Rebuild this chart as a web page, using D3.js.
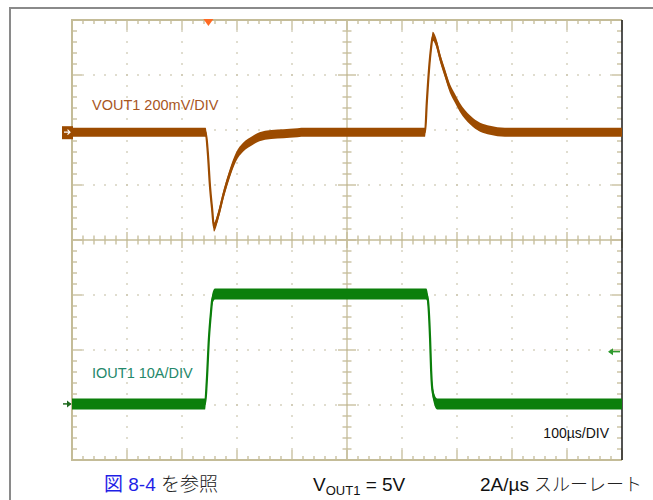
<!DOCTYPE html>
<html>
<head>
<meta charset="utf-8">
<script src="https://cdn.jsdelivr.net/npm/d3@7"></script>
<style>
  body { margin: 0; background: #fff; }
  svg { display: block; font-family: "Liberation Sans", Arial, sans-serif; }
</style>
</head>
<body>
<svg id="scope" width="653" height="500"></svg>
<script>
// scope settings: 100us/div over 10 divisions, 8 vertical divisions
var timeSpanUs = 1000;
var usPerDiv = 100;
var vertDivs = 4; // each side of centre

// VOUT1 channel, 200mV/div, deviation from its 5V level
var voutMvPerDiv = 200;
var voutOffsetDiv = 1.96;
var voutTimeUs = [0, 243, 247, 251, 255, 258, 265, 276, 287, 298, 311, 329, 351, 396, 424,
  642, 645, 649, 653, 656, 662, 669, 678, 687, 696, 705, 724, 742, 760, 787, 1000];
var voutMv = [0, 0, -76, -200, -284, -345, -309, -222, -149, -91, -55, -29, -11, -4, 0,
  0, 105, 225, 309, 349, 327, 273, 215, 160, 124, 91, 44, 18, 7, 0, 0];

// IOUT1 channel, 10A/div
var ioutAPerDiv = 10;
var ioutOffsetDiv = -2.98;
var ioutTimeUs = [0, 242, 245, 249, 253, 255, 260, 644, 647, 651, 653, 656, 664, 1000];
var ioutA = [0, 0, 4, 12, 17, 19, 20, 20, 19, 12, 6, 2, 0, 0];

var triggerTimeUs = 248;
var triggerLevelA = 9.5;

var voutLabel = "VOUT1 200mV/DIV";
var ioutLabel = "IOUT1 10A/DIV";
var timebaseLabel = "100\u00b5s/DIV";

var plot = { left: 72, top: 20, right: 622, bottom: 460 };
var frameColor = "#c4bc98";
var dotColor = "#c9c3aa";
var voutColor = "#9c4b00";
var ioutColor = "#0b7f0b";

var svg = d3.select("#scope");

// outer figure frame
svg.append("path")
  .attr("d", "M10,500 V8 H653")
  .attr("fill", "none")
  .attr("stroke", "#8a8a8a")
  .attr("stroke-width", 2);

var x = d3.scaleLinear().domain([0, timeSpanUs]).range([plot.left, plot.right]);
var yDiv = d3.scaleLinear().domain([-vertDivs, vertDivs]).range([plot.bottom, plot.top]);
var yV = d3.scaleLinear()
  .domain([(-vertDivs - voutOffsetDiv) * voutMvPerDiv, (vertDivs - voutOffsetDiv) * voutMvPerDiv])
  .range([plot.bottom, plot.top]);
var yI = d3.scaleLinear()
  .domain([(-vertDivs - ioutOffsetDiv) * ioutAPerDiv, (vertDivs - ioutOffsetDiv) * ioutAPerDiv])
  .range([plot.bottom, plot.top]);

var minorT = d3.range(0, timeSpanUs + 0.01, usPerDiv / 5);
var minorV = d3.range(-vertDivs, vertDivs + 0.01, 0.2);
var isMajorT = (t) => Math.abs(t / usPerDiv - Math.round(t / usPerDiv)) < 1e-6;
var isMajorV = (v) => Math.abs(v - Math.round(v)) < 1e-6;

// dotted graticule
var grid = svg.append("g");
d3.range(1, 10).filter((k) => k != 5).forEach(function (k) {
  grid.selectAll(null)
    .data(minorV.slice(1, -1))
    .enter()
    .append("rect")
    .attr("x", x(k * usPerDiv) - 0.75)
    .attr("y", (v) => yDiv(v) - 0.75)
    .attr("width", 1.5)
    .attr("height", 1.5)
    .attr("fill", dotColor);
});
d3.range(-3, 4).filter((j) => j != 0).forEach(function (j) {
  grid.selectAll(null)
    .data(minorT.slice(1, -1))
    .enter()
    .append("rect")
    .attr("x", (t) => x(t) - 0.75)
    .attr("y", yDiv(j) - 0.75)
    .attr("width", 1.5)
    .attr("height", 1.5)
    .attr("fill", dotColor);
});

// centre axes
var axes = svg.append("g").attr("stroke", frameColor).attr("stroke-width", 1.3);
axes.append("line")
  .attr("x1", plot.left).attr("x2", plot.right)
  .attr("y1", yDiv(0)).attr("y2", yDiv(0));
axes.append("line")
  .attr("x1", x(timeSpanUs / 2)).attr("x2", x(timeSpanUs / 2))
  .attr("y1", plot.top).attr("y2", plot.bottom);
axes.selectAll(null)
  .data(minorT)
  .enter()
  .append("line")
  .attr("x1", (t) => x(t)).attr("x2", (t) => x(t))
  .attr("y1", (t) => yDiv(0) - (isMajorT(t) ? 8 : 4.5))
  .attr("y2", (t) => yDiv(0) + (isMajorT(t) ? 8 : 4.5));
axes.selectAll(null)
  .data(minorV)
  .enter()
  .append("line")
  .attr("y1", (v) => yDiv(v)).attr("y2", (v) => yDiv(v))
  .attr("x1", (v) => x(timeSpanUs / 2) - (isMajorV(v) ? 9 : 4.5))
  .attr("x2", (v) => x(timeSpanUs / 2) + (isMajorV(v) ? 9 : 4.5));

// edge ticks
var edges = svg.append("g").attr("stroke", frameColor).attr("stroke-width", 1.3);
edges.selectAll(null)
  .data(minorT)
  .enter()
  .append("line")
  .attr("x1", (t) => x(t)).attr("x2", (t) => x(t))
  .attr("y1", plot.top)
  .attr("y2", (t) => plot.top + (isMajorT(t) ? 10 : 4));
edges.selectAll(null)
  .data(minorT)
  .enter()
  .append("line")
  .attr("x1", (t) => x(t)).attr("x2", (t) => x(t))
  .attr("y1", plot.bottom)
  .attr("y2", (t) => plot.bottom - (isMajorT(t) ? 10 : 4));
edges.selectAll(null)
  .data(minorV)
  .enter()
  .append("line")
  .attr("y1", (v) => yDiv(v)).attr("y2", (v) => yDiv(v))
  .attr("x1", plot.left)
  .attr("x2", (v) => plot.left + (isMajorV(v) ? 10 : 5));
edges.selectAll(null)
  .data(minorV)
  .enter()
  .append("line")
  .attr("y1", (v) => yDiv(v)).attr("y2", (v) => yDiv(v))
  .attr("x1", plot.right)
  .attr("x2", (v) => plot.right - (isMajorV(v) ? 10 : 5));

// plot border: khaki on three sides, dark on the right
svg.append("path")
  .attr("d", `M${plot.right},${plot.top} H${plot.left} V${plot.bottom} H${plot.right}`)
  .attr("fill", "none")
  .attr("stroke", frameColor)
  .attr("stroke-width", 2);
svg.append("line")
  .attr("x1", plot.right).attr("x2", plot.right)
  .attr("y1", plot.top).attr("y2", plot.bottom)
  .attr("stroke", "#1a1a1a")
  .attr("stroke-width", 1.5);

// traces drawn as a noisy band: vertical thickness plus a thin core line
function drawTrace(times, values, yScale, color, halfBand) {
  var pts = times.map((t, i) => ({ t: t, v: values[i] }));
  var band = d3.area()
    .curve(d3.curveMonotoneX)
    .x((d) => x(d.t))
    .y0((d) => yScale(d.v) + halfBand)
    .y1((d) => yScale(d.v) - halfBand);
  var line = d3.line()
    .curve(d3.curveMonotoneX)
    .x((d) => x(d.t))
    .y((d) => yScale(d.v));
  svg.append("path").datum(pts).attr("d", band).attr("fill", color);
  svg.append("path").datum(pts).attr("d", line)
    .attr("fill", "none").attr("stroke", color).attr("stroke-width", 2.2);
}
drawTrace(voutTimeUs, voutMv, yV, voutColor, 4.5);
drawTrace(ioutTimeUs, ioutA, yI, ioutColor, 5.5);

// trigger position marker
var tx = x(triggerTimeUs);
svg.append("path")
  .attr("d", `M${tx - 5},${plot.top - 1} L${tx + 5},${plot.top - 1} L${tx},${plot.top + 6} Z`)
  .attr("fill", "#ff6a22");

// channel ground markers
var gv = yV(0);
svg.append("rect")
  .attr("x", 62).attr("y", gv - 6)
  .attr("width", 11).attr("height", 13)
  .attr("fill", voutColor);
svg.append("path")
  .attr("d", `M64,${gv} H70 M67.5,${gv - 2.5} L70,${gv} L67.5,${gv + 2.5}`)
  .attr("fill", "none").attr("stroke", "#fff").attr("stroke-width", 1.2);
var gi = yI(0);
svg.append("path")
  .attr("d", `M63,${gi} H71`)
  .attr("stroke", "#1f6a1f").attr("stroke-width", 1.5);
svg.append("path")
  .attr("d", `M67,${gi - 3.5} L71.5,${gi} L67,${gi + 3.5} Z`)
  .attr("fill", "#1f6a1f");

// trigger level marker
var tl = yI(triggerLevelA);
svg.append("path")
  .attr("d", `M609,${tl} H620`)
  .attr("stroke", "#2f9a2f").attr("stroke-width", 1.5);
svg.append("path")
  .attr("d", `M608,${tl} L613,${tl - 3.5} L613,${tl + 3.5} Z`)
  .attr("fill", "#2f9a2f");

// channel labels
svg.append("text")
  .attr("x", 92).attr("y", 110)
  .attr("font-size", 14.5)
  .attr("fill", "#a8561e")
  .text(voutLabel);
svg.append("text")
  .attr("x", 92).attr("y", 378)
  .attr("font-size", 14.5)
  .attr("fill", "#24886a")
  .text(ioutLabel);
svg.append("text")
  .attr("x", 609).attr("y", 438)
  .attr("font-size", 14)
  .attr("text-anchor", "end")
  .attr("fill", "#111")
  .text(timebaseLabel);

// caption under the figure
var cap = svg.append("g")
  .attr("font-size", 19)
  .style("font-family", '"Liberation Sans", "Noto Sans CJK JP", sans-serif');
var c1 = cap.append("text").attr("x", 104).attr("y", 491);
c1.append("tspan").attr("fill", "#1f1fe6").text("図 8-4");
c1.append("tspan").attr("fill", "#222").attr("font-weight", 300).text(" を参照");
var c2 = cap.append("text").attr("x", 313).attr("y", 491).attr("fill", "#111");
c2.append("tspan").text("V");
c2.append("tspan").attr("font-size", 13).attr("dy", 4).text("OUT1");
c2.append("tspan").attr("dy", -4).text(" = 5V");
var c3 = cap.append("text").attr("x", 480).attr("y", 491).attr("fill", "#111");
c3.append("tspan").text("2A/\u00b5s");
c3.append("tspan").attr("font-weight", 300).attr("fill", "#222").attr("font-size", 18).text(" スルーレート");
</script>
</body>
</html>
